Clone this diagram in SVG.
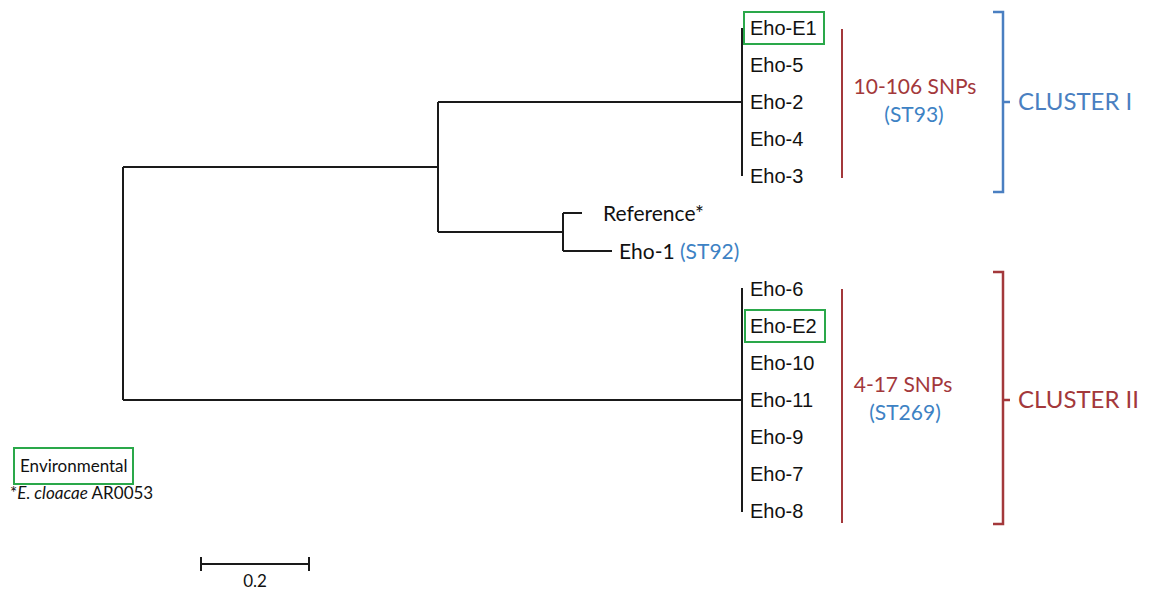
<svg xmlns="http://www.w3.org/2000/svg" width="1157" height="589" viewBox="0 0 1157 589">
<style>
.br{fill:none;stroke:#1a1a1a;stroke-width:2}
.leaf{font-family:"Liberation Sans",Arial,sans-serif;font-size:20px;fill:#111}
.cal{font-family:Lato,"Open Sans",sans-serif}
.red{fill:#a3383b}
.blue{fill:#3d82c4}
.env{fill:none;stroke:#2aa84a;stroke-width:2}
</style>
<rect width="1157" height="589" fill="#fff"/>
<g id="connectors">
<path class="br" d="M123,167 V400 M123,167 H438 M438,102 V232 M438,102 H742 M742,28 V176 M438,232 H563 M563,213 V251 M563,213 H582 M563,251 H612 M123,400 H742 M742,288 V512"/>
</g>
<g id="cluster1-leaves">
<rect class="env" x="744" y="12" width="80" height="32"/>
<text class="leaf" x="750" y="35">Eho-E1</text>
<text class="leaf" x="750" y="72">Eho-5</text>
<text class="leaf" x="750" y="109">Eho-2</text>
<text class="leaf" x="750" y="146">Eho-4</text>
<text class="leaf" x="750" y="183">Eho-3</text>
</g>
<g id="reference">
<text class="cal" x="603" y="221" font-size="21" fill="#111">Reference*</text>
</g>
<g id="eho1">
<text class="cal" x="619" y="259" font-size="21" fill="#111">Eho-1 <tspan class="blue">(ST92)</tspan></text>
</g>
<g id="cluster2-leaves">
<rect class="env" x="745" y="310" width="80" height="32"/>
<text class="leaf" x="750" y="296">Eho-6</text>
<text class="leaf" x="750" y="333">Eho-E2</text>
<text class="leaf" x="750" y="370">Eho-10</text>
<text class="leaf" x="750" y="407">Eho-11</text>
<text class="leaf" x="750" y="444">Eho-9</text>
<text class="leaf" x="750" y="481">Eho-7</text>
<text class="leaf" x="750" y="518">Eho-8</text>
</g>
<g id="snp1">
<line x1="842" y1="29" x2="842" y2="178" stroke="#a3383b" stroke-width="2"/>
<text class="cal red" x="915" y="94" font-size="21" text-anchor="middle">10-106 SNPs</text>
<text class="cal blue" x="914" y="122" font-size="21" text-anchor="middle">(ST93)</text>
</g>
<g id="snp2">
<line x1="842" y1="289" x2="842" y2="523" stroke="#a3383b" stroke-width="2"/>
<text class="cal red" x="903" y="392" font-size="21" text-anchor="middle">4-17 SNPs</text>
<text class="cal blue" x="905" y="420" font-size="21" text-anchor="middle">(ST269)</text>
</g>
<g id="cluster1">
<path d="M993,12 H1003 V192 H993 M1003,102 H1010" fill="none" stroke="#4a7fc1" stroke-width="2.5"/>
<text class="cal" x="1018" y="110" font-size="24" fill="#4a7fc1">CLUSTER I</text>
</g>
<g id="cluster2">
<path d="M993,272 H1003 V524 H993 M1003,400 H1010" fill="none" stroke="#a3383b" stroke-width="2.5"/>
<text class="cal red" x="1018" y="408" font-size="24">CLUSTER II</text>
</g>
<g id="legend">
<rect class="env" x="14" y="448" width="119" height="36"/>
<text class="cal" x="20" y="472" font-size="17" fill="#111">Environmental</text>
<text class="cal" x="10" y="499" font-size="17" fill="#111">*<tspan font-style="italic">E. cloacae</tspan> AR0053</text>
</g>
<g id="scale">
<path class="br" d="M201,564 H309 M201,557 V571 M309,557 V571"/>
<text class="cal" x="255" y="587" font-size="17" fill="#111" text-anchor="middle">0.2</text>
</g>
</svg>
